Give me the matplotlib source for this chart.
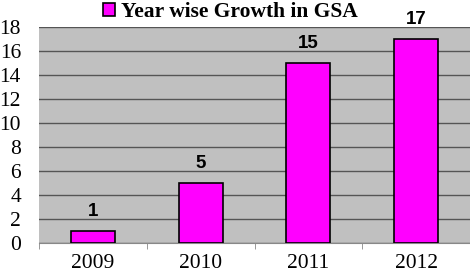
import numpy as np
import matplotlib.pyplot as plt

# data
years = ['2009', '2010', '2011', '2012']
growth = [1, 5, 15, 17]
yticks = [0, 2, 4, 6, 8, 10, 12, 14, 16, 18]

fig = plt.figure(figsize=(4.7, 2.76), dpi=100)
ax = fig.add_axes([39 / 470, 33 / 276, 431 / 470, 216 / 276])
ax.set_facecolor('#c0c0c0')

x = np.arange(len(years))
bars = ax.bar(x, growth, width=0.41, color='#ff00ff', edgecolor='black',
              linewidth=1.2, label='Year wise Growth in GSA', zorder=3)

# data labels
for xi, v in zip(x, growth):
    ax.text(xi, v + 0.9, str(v), ha='center', va='bottom', fontsize=13.5,
            fontweight='bold', family='Liberation Sans', zorder=4)

ax.set_xlim(-0.5, len(years) - 0.5)
ax.set_ylim(0, 18)
ax.set_yticks(yticks)
ax.set_yticklabels([str(t) for t in yticks], family='Liberation Serif', fontsize=15.5)
ax.set_xticks(x)
ax.set_xticklabels(years, family='Liberation Serif', fontsize=15.5)
ax.set_xticks(np.arange(-0.5, len(years)), minor=True)
ax.tick_params(axis='y', length=0, pad=13)
ax.tick_params(axis='x', which='major', length=0, pad=8)
ax.tick_params(axis='x', which='minor', length=4, color='#888888', direction='out')

ax.grid(axis='y', color='#555555', linewidth=1, zorder=1)
for s in ['top', 'right', 'left']:
    ax.spines[s].set_visible(False)
ax.spines['bottom'].set_color('#888888')

fig.legend(handles=[bars], loc='upper center', bbox_to_anchor=(0.49, 1.0),
           frameon=False, handlelength=0.55, handleheight=0.55, handletextpad=0.3,
           borderpad=0.1, borderaxespad=0.0,
           prop={'family': 'Liberation Serif', 'weight': 'bold', 'size': 15.5})

fig.savefig('out.png', dpi=100)
